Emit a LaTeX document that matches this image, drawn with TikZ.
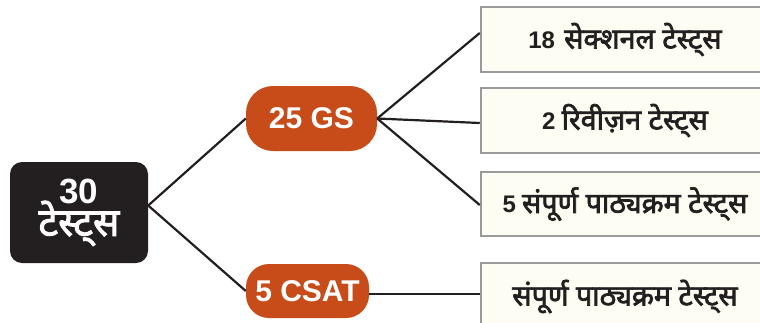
\documentclass[tikz,border=0pt]{standalone}
\usepackage{fontspec}
\setmainfont{Liberation Sans}
\newfontfamily\deva[Script=Devanagari, Scale=1.3, FakeBold=2.5]{Noto Sans}
\newcommand{\digs}[1]{{\fontsize{24}{26}\selectfont #1}}
\definecolor{darkbox}{HTML}{231F20}
\definecolor{rust}{HTML}{C84B1A}
\definecolor{cream}{HTML}{FDFDF3}
\definecolor{edgegray}{HTML}{9A9A9A}
\tikzset{
  rootbox/.style={fill=darkbox, rounded corners=12pt, minimum width=138pt, minimum height=101pt, text=white, font=\bfseries, align=center, inner sep=0pt},
  midbox/.style={fill=rust, text=white, inner sep=0pt, font=\bfseries\fontsize{30}{32}\selectfont},
  leafbox/.style={fill=cream, draw=edgegray, line width=2.5pt, minimum width=288pt, text=darkbox, inner sep=0pt, font=\bfseries\fontsize{22}{25}\selectfont},
  conn/.style={draw=darkbox, line width=2.2pt}
}
\begin{document}
\begin{tikzpicture}[x=1pt,y=-1pt]
\useasboundingbox (0,0) rectangle (760,322);
\clip (0,0) rectangle (760,322);
\node[rootbox] (root) at (79,212.5) {\fontsize{35}{37}\selectfont 30\\[-4pt]{\deva\fontsize{30}{33}\selectfont टेस्ट्स}};
\node[midbox, rounded corners=27pt, minimum width=131pt, minimum height=65pt] (gs) at (311.5,118.5) {25 GS};
\node[midbox, rounded corners=23pt, minimum width=123pt, minimum height=54pt] (csat) at (307.5,291) {5 CSAT};
\node[leafbox, minimum height=65pt] (b1) at (625,39.5) {\digs{18}\hspace{3pt} {\deva सेक्शनल टेस्ट्स}};
\node[leafbox, minimum height=65pt] (b2) at (625,120.5) {\digs{2} {\deva रिवीज़न टेस्ट्स}};
\node[leafbox, minimum height=64pt] (b3) at (625,204) {\digs{5} {\deva संपूर्ण पाठ्यक्रम टेस्ट्स}};
\node[leafbox, minimum height=67pt] (b4) at (625,296.5) {{\deva संपूर्ण पाठ्यक्रम टेस्ट्स}};
\coordinate (rj) at ([yshift=7pt]root.east);
\draw[conn] (rj) -- (gs.west);
\draw[conn] (rj) -- (csat.west);
\draw[conn] (gs.east) -- ([yshift=6.5pt]b1.west);
\draw[conn] (gs.east) -- ([yshift=-2.5pt]b2.west);
\draw[conn] (gs.east) -- ([yshift=-1pt]b3.west);
\draw[conn] ([yshift=-3pt]csat.east) -- ([yshift=-3pt]csat.east -| b4.west);
\end{tikzpicture}
\end{document}
